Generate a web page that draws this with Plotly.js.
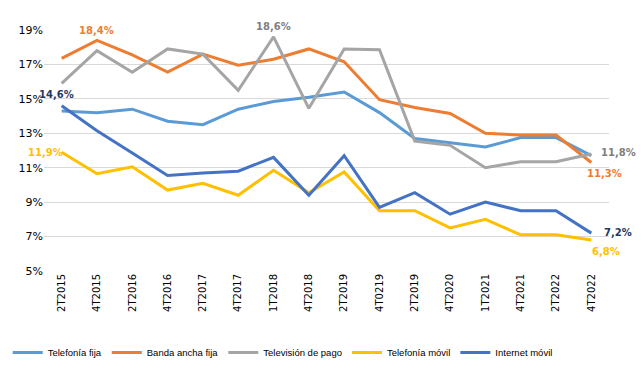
<!DOCTYPE html>
<html><head><meta charset="utf-8">
<script src="https://cdn.plot.ly/plotly-3.0.1.min.js"></script>
<style>html,body{margin:0;padding:0;background:#fff}#c{width:643px;height:375px}</style>
</head><body><div id="c"></div>
<script>
const quarters = ["2T2015","4T2015","2T2016","4T2016","2T2017","4T2017","1T2018","4T2018","2T2019","4T0219","2T2019","4T2020","1T2021","4T2021","2T2022","4T2022"];
const telefoniaFija   = [14.3,14.2,14.4,13.7,13.5,14.4,14.85,15.1,15.4,14.2,12.7,12.45,12.2,12.75,12.75,11.7];
const bandaAnchaFija  = [17.35,18.4,17.55,16.55,17.6,16.95,17.3,17.9,17.15,14.95,14.5,14.15,13.0,12.9,12.9,11.3];
const television      = [15.9,17.8,16.55,17.9,17.6,15.5,18.6,14.45,17.9,17.85,12.55,12.3,11.0,11.35,11.35,11.8];
const telefoniaMovil  = [11.9,10.65,11.05,9.7,10.1,9.4,10.85,9.55,10.75,8.5,8.5,7.5,8.0,7.1,7.1,6.8];
const internetMovil   = [14.6,13.15,11.85,10.55,10.7,10.8,11.6,9.4,11.7,8.7,9.55,8.3,9.0,8.5,8.5,7.2];
const seriesNames = ["Telefonía fija","Banda ancha fija","Televisión de pago","Telefonía móvil","Internet móvil"];
const seriesColors = ["#5B9BD5","#ED7D31","#A5A5A5","#FFC000","#4472C4"];
const seriesData = [telefoniaFija,bandaAnchaFija,television,telefoniaMovil,internetMovil];
const yTicks = [5,7,9,11,13,15,17,19];

const xIdx = quarters.map((_, i) => i);
const fmt = v => v.toFixed(1).replace('.', ',') + '%';
const traces = seriesData.map((d, k) => ({
  x: xIdx, y: d, type: 'scatter', mode: 'lines', name: seriesNames[k],
  line: {color: seriesColors[k], width: 3}, hoverinfo: 'skip'
}));
const last = quarters.length - 1;
const lab = (series, i, color, xs, ys, anchor) => ({
  x: i, y: series[i], xref: 'x', yref: 'y', text: '<b>' + fmt(series[i]) + '</b>', showarrow: false,
  xshift: xs, yshift: ys, xanchor: anchor || 'center', font: {family: 'DejaVu Sans', size: 10, color: color}
});
const annotations = [
  lab(internetMovil, 0, '#1F3864', -5, 11),
  lab(bandaAnchaFija, 1, '#ED7D31', 0, 10),
  lab(television, 6, '#7F7F7F', 0, 10),
  lab(telefoniaMovil, 0, '#FFC000', -16, 0),
  lab(television, last, '#7F7F7F', 8, 1, 'left'),
  lab(bandaAnchaFija, last, '#ED7D31', 13, -11),
  lab(internetMovil, last, '#1F3864', 11, 1, 'left'),
  lab(telefoniaMovil, last, '#FFC000', 15, -11)
];
const layout = {
  width: 643, height: 375,
  margin: {l: 44, r: 34, t: 30, b: 104},
  paper_bgcolor: '#fff', plot_bgcolor: '#fff',
  font: {family: 'DejaVu Sans', size: 11, color: '#000'},
  xaxis: {range: [-0.5, 15.5], tickmode: 'array', tickvals: xIdx, ticktext: quarters,
    tickangle: -90, tickfont: {size: 10, color: '#000'}, showgrid: false, zeroline: false,
    showline: false, ticks: '', fixedrange: true},
  yaxis: {range: [5, 19], tickmode: 'array', tickvals: yTicks, ticktext: yTicks.map(v => v + '%'),
    showgrid: true, gridcolor: '#D9D9D9', gridwidth: 1, zeroline: false, showline: false,
    ticks: '', tickfont: {size: 11, color: '#000'}, fixedrange: true},
  showlegend: true,
  legend: {orientation: 'h', xref: 'container', yref: 'container', x: 0.012, xanchor: 'left', y: 0.06, yanchor: 'middle',
    font: {family: 'Liberation Sans', size: 9.5, color: '#000'}, itemwidth: 30, tracegroupgap: 0},
  annotations: annotations
};
Plotly.newPlot('c', traces, layout, {staticPlot: true});
</script></body></html>
